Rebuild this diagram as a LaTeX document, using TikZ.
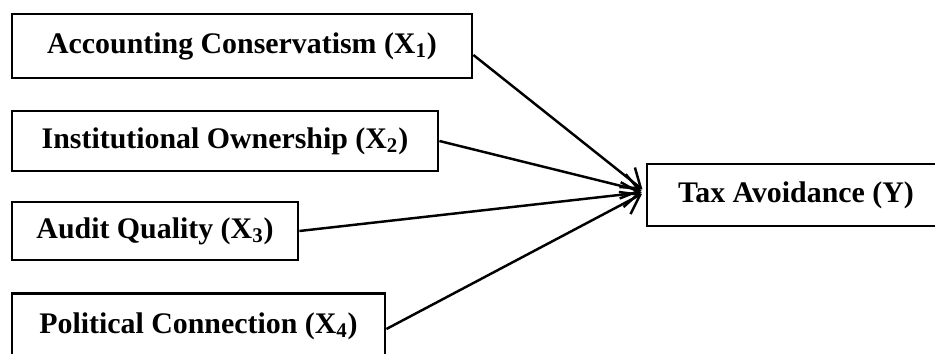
\documentclass[tikz,border=0pt]{standalone}
\usepackage{fontspec}
\setmainfont{Liberation Serif}
\usetikzlibrary{arrows.meta}

\begin{document}
\begin{tikzpicture}[
    varbox/.style={draw, line width=1.6pt, minimum height=1.22cm, inner sep=0pt,
      font=\fontsize{17}{20}\selectfont\bfseries},
    link/.style={line width=1.4pt, -{Straight Barb[length=3.5mm,width=5mm,line width=1.4pt]}, shorten >=0.08cm}
]
\useasboundingbox (0,0) rectangle (18.7,7.08);
\clip (0,0) rectangle (18.7,7.08);

% independent variables
\node[varbox, minimum width=9.2cm, minimum height=1.28cm] (acc) at (4.84,6.16) {Accounting Conservatism (X\textsubscript{1})};
\node[varbox, minimum width=8.52cm, minimum height=1.2cm] (inst) at (4.5,4.26) {Institutional Ownership (X\textsubscript{2})};
\node[varbox, minimum width=5.72cm, minimum height=1.16cm] (audit) at (3.1,2.46) {Audit Quality (X\textsubscript{3})};
\node[varbox, minimum width=7.46cm, minimum height=1.3cm] (pol) at (3.97,0.56) {Political Connection (X\textsubscript{4})};

% dependent variable
\node[varbox, minimum width=5.96cm, minimum height=1.24cm] (tax) at (15.92,3.18) {Tax Avoidance (Y)};

\draw[link] ([yshift=-0.18cm]acc.east) -- ([yshift=0.06cm]tax.west);
\draw[link] (inst.east) -- ([yshift=0.06cm]tax.west);
\draw[link] (audit.east) -- ([yshift=0.06cm]tax.west);
\draw[link] ([yshift=-0.06cm]pol.east) -- ([yshift=0.06cm]tax.west);
\end{tikzpicture}
\end{document}
